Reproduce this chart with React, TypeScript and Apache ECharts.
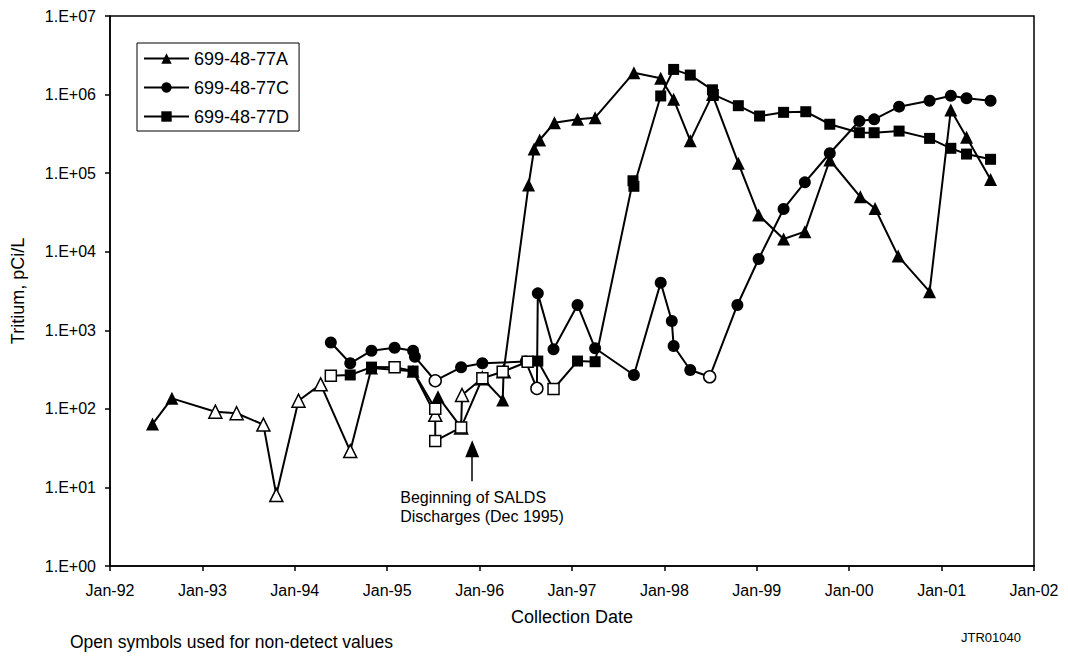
import React, { useEffect, useRef } from "react";
import * as echarts from "echarts";

// Series names
const seriesNames = ["699-48-77A", "699-48-77C", "699-48-77D"];

// [decimal year, tritium pCi/L, non-detect flag (1 = open symbol)]
const wellA: [number, number, number][] = [
  [1992.46, 64, 0], [1992.67, 136, 0], [1993.14, 92, 1], [1993.37, 88, 1],
  [1993.66, 63, 1], [1993.8, 8, 1], [1994.04, 127, 1], [1994.28, 205, 1],
  [1994.6, 29, 1], [1994.83, 330, 0], [1995.28, 300, 0], [1995.52, 84, 1],
  [1995.55, 143, 0], [1995.8, 58, 1], [1995.81, 150, 1], [1996.03, 245, 1],
  [1996.25, 130, 0], [1996.26, 300, 1], [1996.53, 70600, 0], [1996.59, 203000, 0],
  [1996.65, 264000, 0], [1996.81, 438000, 0], [1997.06, 484000, 0], [1997.25, 508000, 0],
  [1997.67, 1900000, 0], [1997.96, 1610000, 0], [1998.1, 871000, 0], [1998.28, 259000, 0],
  [1998.52, 1000000, 0], [1998.8, 134000, 0], [1999.02, 29300, 0], [1999.29, 14500, 0],
  [1999.52, 18000, 0], [1999.79, 147000, 0], [2000.12, 50000, 0], [2000.28, 35500, 0],
  [2000.53, 8800, 0], [2000.87, 3100, 0], [2001.1, 637000, 0], [2001.27, 286000, 0],
  [2001.53, 83000, 0],
];

const wellC: [number, number, number][] = [
  [1994.39, 700, 0], [1994.6, 380, 0], [1994.83, 550, 0], [1995.08, 600, 0],
  [1995.28, 550, 0], [1995.3, 460, 0], [1995.52, 228, 1], [1995.8, 338, 0],
  [1996.03, 380, 0], [1996.5, 400, 0], [1996.62, 182, 1], [1996.63, 2950, 0],
  [1996.8, 572, 0], [1997.06, 2100, 0], [1997.25, 590, 0], [1997.67, 270, 0],
  [1997.96, 4040, 0], [1998.08, 1310, 0], [1998.1, 630, 0], [1998.28, 312, 0],
  [1998.49, 256, 1], [1998.79, 2100, 0], [1999.02, 8070, 0], [1999.29, 35000, 0],
  [1999.52, 76400, 0], [1999.79, 179000, 0], [2000.11, 461000, 0], [2000.27, 484000, 0],
  [2000.54, 702000, 0], [2000.87, 836000, 0], [2001.1, 968000, 0], [2001.27, 896000, 0],
  [2001.53, 836000, 0],
];

const wellD: [number, number, number][] = [
  [1994.39, 264, 1], [1994.6, 270, 0], [1994.83, 340, 0], [1995.08, 338, 1],
  [1995.28, 303, 0], [1995.52, 100, 1], [1995.52, 39, 1], [1995.8, 58, 1],
  [1996.03, 245, 1], [1996.25, 297, 1], [1996.52, 398, 1], [1996.63, 406, 0],
  [1996.8, 179, 1], [1997.06, 406, 0], [1997.25, 398, 0], [1997.66, 80000, 0],
  [1997.67, 68000, 0], [1997.96, 960000, 0], [1998.1, 2090000, 0], [1998.28, 1770000, 0],
  [1998.52, 1150000, 0], [1998.53, 1000000, 0], [1998.8, 722000, 0], [1999.03, 533000, 0],
  [1999.29, 594000, 0], [1999.53, 605000, 0], [1999.79, 419000, 0], [2000.11, 327000, 0],
  [2000.27, 327000, 0], [2000.54, 343000, 0], [2000.87, 277000, 0], [2001.1, 207000, 0],
  [2001.27, 175000, 0], [2001.53, 150000, 0],
];

// Annotation: start of SALDS discharges [year, arrow head value, arrow tail value]
const saldsArrow: [number, number, number] = [1995.92, 31, 12];
const saldsText = ["Beginning of SALDS", "Discharges (Dec 1995)"];

const FONT = "'Liberation Sans', Arial, sans-serif";

function toItems(rows: [number, number, number][]) {
  return rows.map(([x, v, nd]) => ({
    value: [x, v],
    itemStyle: nd
      ? { color: "#ffffff", borderColor: "#000000", borderWidth: 1.5 }
      : { color: "#000000", borderColor: "#000000", borderWidth: 0 },
  }));
}

export default function App() {
  const ref = useRef<HTMLDivElement>(null);
  useEffect(() => {
    if (!ref.current) return;
    const chart = echarts.init(ref.current, undefined, { renderer: "svg" });
    const mk = (name: string, rows: [number, number, number][], symbol: string, size: number, extra: any = {}) => ({
      name,
      type: "line",
      data: toItems(rows),
      symbol,
      symbolSize: size,
      showSymbol: true,
      lineStyle: { color: "#000", width: 2 },
      itemStyle: { color: "#000" },
      emphasis: { disabled: true },
      ...extra,
    });
    chart.setOption({
      animation: false,
      backgroundColor: "#fff",
      textStyle: { fontFamily: FONT },
      grid: {
        left: 110, right: 34, top: 16, bottom: 94,
        show: true, borderColor: "#000", borderWidth: 1.5, backgroundColor: "transparent",
      },
      legend: {
        left: 137, top: 43, orient: "vertical",
        borderColor: "#000", borderWidth: 1, padding: [6, 10, 5, 6],
        itemWidth: 45, itemHeight: 13, itemGap: 10,
        textStyle: { fontSize: 18, lineHeight: 19, color: "#000", fontFamily: FONT },
        data: seriesNames,
      },
      xAxis: {
        type: "value", min: 1992, max: 2002, interval: 1,
        name: "Collection Date", nameLocation: "middle", nameGap: 42,
        nameTextStyle: { fontSize: 18, color: "#000", fontFamily: FONT },
        axisLine: { lineStyle: { color: "#000", width: 1.5 } },
        axisTick: { show: true, length: 5, lineStyle: { color: "#000", width: 1.5 } },
        splitLine: { show: false },
        axisLabel: {
          fontSize: 16, color: "#000", margin: 16, fontFamily: FONT,
          formatter: (v: number) => "Jan-" + String(Math.round(v)).slice(2),
        },
      },
      yAxis: {
        type: "log", logBase: 10, min: 1, max: 10000000,
        name: "Tritium, pCi/L", nameLocation: "middle", nameGap: 83,
        nameTextStyle: { fontSize: 18, color: "#000", fontFamily: FONT },
        axisLine: { show: true, lineStyle: { color: "#000", width: 1.5 } },
        axisTick: { show: true, length: 5, lineStyle: { color: "#000", width: 1.5 } },
        splitLine: { show: false },
        minorTick: { show: false },
        axisLabel: {
          fontSize: 16, color: "#000", margin: 14, fontFamily: FONT,
          formatter: (v: number) => {
            const e = Math.round(Math.log10(v));
            return "1.E+" + (e < 10 ? "0" : "") + e;
          },
        },
      },
      series: [
        mk(seriesNames[0], wellA, "triangle", 13, {
          markPoint: {
            symbol: "triangle", symbolSize: [14, 17], silent: true,
            itemStyle: { color: "#000" }, label: { show: false },
            data: [{ coord: [saldsArrow[0], saldsArrow[1]] }],
          },
          markLine: {
            symbol: ["none", "none"], silent: true, label: { show: false },
            lineStyle: { color: "#000", width: 1.5, type: "solid" },
            data: [[{ coord: [saldsArrow[0], saldsArrow[1]] }, { coord: [saldsArrow[0], saldsArrow[2]] }]],
          },
        }),
        mk(seriesNames[1], wellC, "circle", 12),
        mk(seriesNames[2], wellD, "rect", 11),
      ],
    });
    const p = chart.convertToPixel({ gridIndex: 0 }, [saldsArrow[0], saldsArrow[2]]) as number[];
    chart.setOption({
      graphic: [
        {
          type: "text", x: p[0] - 72, y: p[1] + 7,
          style: { text: saldsText.join("\n"), fontSize: 16, lineHeight: 19, fill: "#000", align: "left", verticalAlign: "top", fontFamily: FONT },
        },
        {
          type: "text", left: 70, top: 633,
          style: { text: "Open symbols used for non-detect values", fontSize: 17.5, fill: "#000", fontFamily: FONT },
        },
        {
          type: "text", left: 961, top: 631,
          style: { text: "JTR01040", fontSize: 13, fill: "#000", fontFamily: FONT },
        },
      ],
    });
    return () => chart.dispose();
  }, []);
  return <div ref={ref} style={{ position: "absolute", left: 0, top: 0, width: 1068, height: 660 }} />;
}
